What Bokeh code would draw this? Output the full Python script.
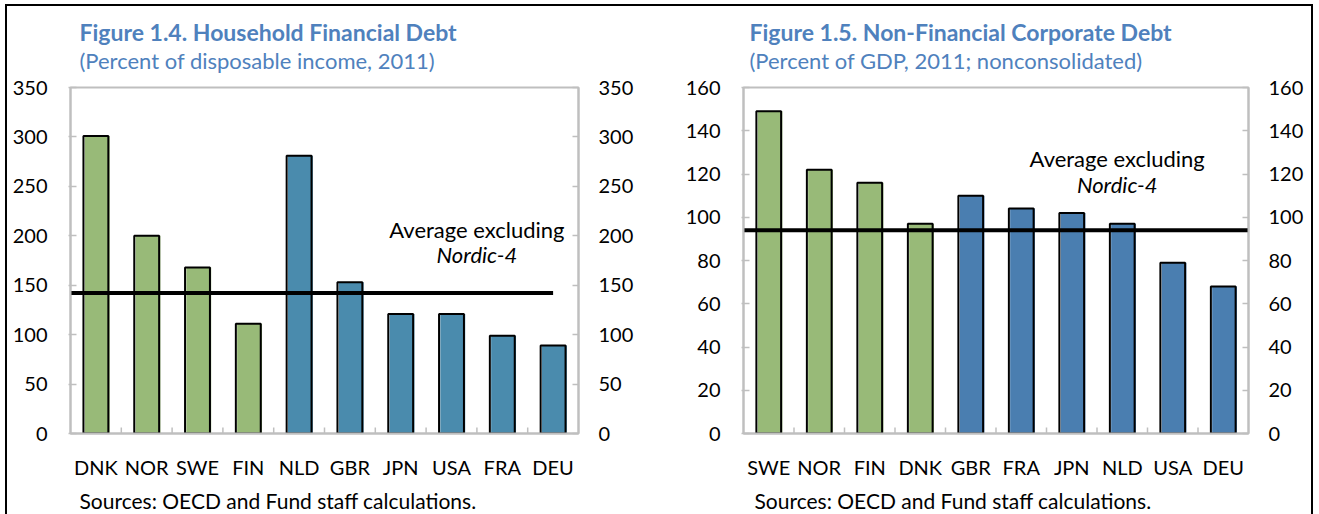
from bokeh.plotting import figure
from bokeh.models import (FactorRange, Range1d, LinearAxis, FixedTicker, Title,
                          Label, ColumnDataSource)
from bokeh.transform import dodge
from bokeh.layouts import row
from bokeh.embed import file_html
from bokeh.resources import INLINE

# ---------------- data ----------------
# Figure 1.4 Household Financial Debt (percent of disposable income, 2011)
hh_countries = ["DNK", "NOR", "SWE", "FIN", "NLD", "GBR", "JPN", "USA", "FRA", "DEU"]
hh_debt = [301, 200, 168, 111, 281, 153, 121, 121, 99, 89]
hh_group = ["Nordic", "Nordic", "Nordic", "Nordic", "Other", "Other", "Other", "Other", "Other", "Other"]
hh_avg = 142
hh_yticks = [0, 50, 100, 150, 200, 250, 300, 350]

# Figure 1.5 Non-Financial Corporate Debt (percent of GDP, 2011)
corp_countries = ["SWE", "NOR", "FIN", "DNK", "GBR", "FRA", "JPN", "NLD", "USA", "DEU"]
corp_debt = [149, 122, 116, 97, 110, 104, 102, 97, 79, 68]
corp_group = ["Nordic", "Nordic", "Nordic", "Nordic", "Other", "Other", "Other", "Other", "Other", "Other"]
corp_avg = 94
corp_yticks = [0, 20, 40, 60, 80, 100, 120, 140, 160]

FONT = "Lato"
GREY = "#BFBFBF"
TITLE_COLOR = "#4F81BD"
GREEN = "#98BA78"


def make_panel(title, subtitle, cats, vals, groups, avg, yticks, blue,
               line_end_offset, label_x, label_y1, label_y2,
               frame_w, border_l, border_r, title_off, src_off):
    ymax = yticks[-1]
    frame_h = 346
    p = figure(x_range=FactorRange(*cats), y_range=Range1d(0, ymax),
               frame_width=frame_w, frame_height=frame_h,
               min_border_left=border_l, min_border_right=border_r,
               min_border_top=81, min_border_bottom=80,
               output_backend="svg", toolbar_location=None, tools="")
    p.grid.visible = False
    p.background_fill_color = "white"
    p.border_fill_color = "white"
    p.outline_line_color = GREY
    p.outline_line_width = 2

    colors = [GREEN if g == "Nordic" else blue for g in groups]
    src = ColumnDataSource(dict(cat=cats, val=vals, color=colors))
    p.vbar(x=dodge("cat", 0.025, range=p.x_range), top="val", width=0.49,
           fill_color="color", line_color=None, source=src)
    p.vbar(x="cat", top="val", width=0.49, fill_color=None,
           line_color="black", line_width=2, source=src)

    # category boundary ticks (inward)
    tick_len = 6 * ymax / frame_h
    bsrc = ColumnDataSource(dict(cat=cats[:-1], y0=[0] * (len(cats) - 1),
                                 y1=[tick_len] * (len(cats) - 1)))
    p.segment(x0=dodge("cat", 0.5, range=p.x_range), x1=dodge("cat", 0.5, range=p.x_range),
              y0="y0", y1="y1", line_color=GREY, line_width=1.5, source=bsrc)

    # average excluding Nordic-4
    asrc = ColumnDataSource(dict(x0=[cats[0]], x1=[cats[-1]], y=[avg]))
    p.segment(x0=dodge("x0", -0.5, range=p.x_range),
              x1=dodge("x1", line_end_offset, range=p.x_range),
              y0="y", y1="y", line_color="black", line_width=4, source=asrc)

    p.add_layout(Label(x=label_x, y=label_y1, text="Average excluding",
                       text_font=FONT, text_font_size="22px", text_align="center",
                       text_baseline="middle", text_color="black"))
    p.add_layout(Label(x=label_x, y=label_y2, text="Nordic-4",
                       text_font=FONT, text_font_size="22px", text_font_style="italic",
                       text_align="center", text_baseline="middle", text_color="black"))

    # axes
    xa = p.xaxis[0]
    xa.axis_line_color = GREY
    xa.axis_line_width = 2
    xa.major_tick_line_color = None
    xa.major_tick_in = 0
    xa.major_tick_out = 0
    xa.major_label_standoff = 21
    xa.major_label_text_font = FONT
    xa.major_label_text_font_size = "20px"
    xa.major_label_text_color = "black"

    ya = p.yaxis[0]
    ya.ticker = FixedTicker(ticks=yticks)
    ya.axis_line_color = GREY
    ya.axis_line_width = 2
    ya.major_tick_line_color = GREY
    ya.major_tick_line_width = 1.5
    ya.major_tick_in = 6
    ya.major_tick_out = 2
    ya.minor_tick_line_color = None
    ya.major_label_standoff = 21
    ya.major_label_text_font = FONT
    ya.major_label_text_font_size = "20px"
    ya.major_label_text_color = "black"

    ra = LinearAxis(ticker=FixedTicker(ticks=yticks))
    ra.axis_line_color = GREY
    ra.axis_line_width = 2
    ra.major_tick_line_color = GREY
    ra.major_tick_line_width = 1.5
    ra.major_tick_in = 6
    ra.major_tick_out = 0
    ra.minor_tick_line_color = None
    ra.major_label_standoff = 20
    ra.major_label_text_font = FONT
    ra.major_label_text_font_size = "20px"
    ra.major_label_text_color = "black"
    p.add_layout(ra, "right")

    p.add_layout(Title(text=subtitle, align="left", offset=title_off,
                       text_font=FONT, text_font_size="22px", text_font_style="normal",
                       text_color=TITLE_COLOR, standoff=28), "above")
    p.add_layout(Title(text=title, align="left", offset=title_off,
                       text_font=FONT, text_font_size="23px", text_font_style="bold",
                       text_color=TITLE_COLOR, standoff=-30), "above")
    p.add_layout(Title(text="Sources: OECD and Fund staff calculations.", align="left",
                       offset=src_off, text_font=FONT, text_font_size="21px",
                       text_font_style="normal", text_color="black", standoff=8), "below")
    return p


p1 = make_panel("Figure 1.4. Household Financial Debt",
                "(Percent of disposable income, 2011)",
                hh_countries, hh_debt, hh_group, hh_avg, hh_yticks, "#4A8BAD",
                0.0, 8.0, 206, 181,
                508, 63, 82, 9, 9)
p2 = make_panel("Figure 1.5. Non-Financial Corporate Debt",
                "(Percent of GDP, 2011; nonconsolidated)",
                corp_countries, corp_debt, corp_group, corp_avg, corp_yticks, "#4A7EB0",
                0.5, 7.4, 127, 115,
                505, 83, 63, 6, 11)

layout = row(p1, p2, styles={"border-top": "2px solid black",
                             "border-left": "2px solid black",
                             "border-right": "2px solid black",
                             "margin-top": "4px",
                             "margin-left": "5px"})

open("out.html", "w").write(file_html(layout, INLINE))
